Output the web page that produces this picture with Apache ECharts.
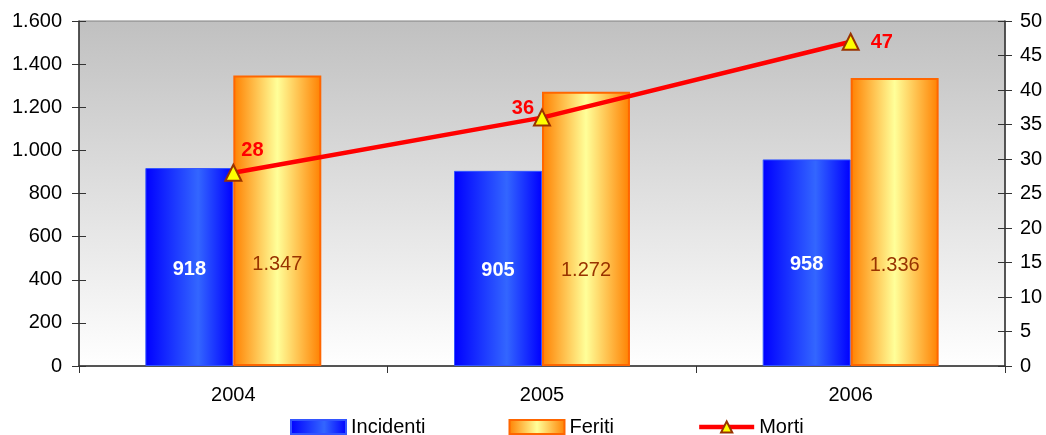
<!DOCTYPE html>
<html>
<head>
<meta charset="utf-8">
<script src="https://cdn.jsdelivr.net/npm/echarts@6/dist/echarts.min.js"></script>
<style>
html,body{margin:0;padding:0;background:#fff;}
#c{width:1046px;height:435px;}
</style>
</head>
<body>
<div id="c"></div>
<script>
var categories = ['2004', '2005', '2006'];
var incidenti = [918, 905, 958];
var feriti = [1347, 1272, 1336];
var morti = [28, 36, 47];
var leftTicks = {min: 0, max: 1600, interval: 200};
var rightTicks = {min: 0, max: 50, interval: 5};

function fmt(v) {
  return String(v).replace(/\B(?=(\d{3})+(?!\d))/g, '.');
}
var FONT = '"Liberation Sans", Arial, sans-serif';
var FS = 20;
var mortiLabelPos = [
  {position: 'right', offset: [-6, -22]},
  {position: 'left', offset: [6, -9]},
  {position: 'right', offset: [6, 1]}
];

var chart = echarts.init(document.getElementById('c'), null, {renderer: 'canvas'});
var option = {
  animation: false,
  textStyle: {fontFamily: FONT},
  grid: {
    left: 79, right: 41, top: 21, bottom: 69,
    show: true,
    borderColor: '#808080', borderWidth: 1,
    backgroundColor: new echarts.graphic.LinearGradient(0, 0, 0, 1, [
      {offset: 0, color: '#c0c0c0'},
      {offset: 1, color: '#ffffff'}
    ])
  },
  legend: {
    top: 417,
    left: 290,
    padding: 0,
    itemWidth: 55,
    itemHeight: 14,
    itemGap: 83,
    textStyle: {fontSize: FS, color: '#000', fontFamily: FONT},
    data: [
      {name: 'Incidenti', icon: 'rect'},
      {name: 'Feriti', icon: 'rect'},
      {name: 'Morti', lineStyle: {width: 4.5, color: '#ff0000'}}
    ]
  },
  xAxis: {
    type: 'category',
    data: categories,
    boundaryGap: true,
    axisLine: {lineStyle: {color: '#333', width: 1.5}},
    axisTick: {show: true, length: 7, interval: 0, lineStyle: {color: '#333'}},
    axisLabel: {fontSize: FS, color: '#000', margin: 19, fontFamily: FONT}
  },
  yAxis: [
    {
      type: 'value', position: 'left',
      min: leftTicks.min, max: leftTicks.max, interval: leftTicks.interval,
      axisLine: {show: true, lineStyle: {color: '#333', width: 1.5}},
      axisTick: {show: true, length: 7, lineStyle: {color: '#333'}},
      splitLine: {show: false},
      axisLabel: {fontSize: FS, color: '#000', margin: 17, formatter: fmt, fontFamily: FONT}
    },
    {
      type: 'value', position: 'right',
      min: rightTicks.min, max: rightTicks.max, interval: rightTicks.interval,
      axisLine: {show: true, lineStyle: {color: '#333', width: 1.5}},
      axisTick: {show: true, length: 7, lineStyle: {color: '#333'}},
      splitLine: {show: false},
      axisLabel: {fontSize: FS, color: '#000', margin: 15, fontFamily: FONT}
    },
    {
      type: 'value', position: 'left',
      min: leftTicks.min, max: leftTicks.max, interval: leftTicks.interval,
      axisLine: {show: false},
      axisTick: {show: true, inside: true, length: 7, lineStyle: {color: '#333'}},
      splitLine: {show: false}, axisLabel: {show: false}
    },
    {
      type: 'value', position: 'right',
      min: rightTicks.min, max: rightTicks.max, interval: rightTicks.interval,
      axisLine: {show: false},
      axisTick: {show: true, inside: true, length: 7, lineStyle: {color: '#333'}},
      splitLine: {show: false}, axisLabel: {show: false}
    }
  ],
  series: [
    {
      name: 'Incidenti', type: 'bar', yAxisIndex: 0,
      data: incidenti,
      barWidth: '28.5%', barGap: '0%',
      itemStyle: {
        color: new echarts.graphic.LinearGradient(0, 0, 1, 0, [
          {offset: 0, color: '#0000ff'},
          {offset: 0.6, color: '#3366ff'},
          {offset: 1, color: '#0000ff'}
        ]),
        borderColor: '#3355ff', borderWidth: 1
      },
      label: {
        show: true, position: ['50%', '51%'], align: 'center', verticalAlign: 'middle',
        color: '#fff', fontWeight: 'bold', fontSize: FS, fontFamily: FONT,
        formatter: function (p) { return fmt(p.value); }
      }
    },
    {
      name: 'Feriti', type: 'bar', yAxisIndex: 0,
      data: feriti,
      barWidth: '28.5%', barGap: '0%',
      itemStyle: {
        color: new echarts.graphic.LinearGradient(0, 0, 1, 0, [
          {offset: 0, color: '#ff8000'},
          {offset: 0.5, color: '#ffff99'},
          {offset: 1, color: '#ff8000'}
        ]),
        borderColor: '#ff6600', borderWidth: 2
      },
      label: {
        show: true, position: ['50%', '65%'], align: 'center', verticalAlign: 'middle',
        color: '#993300', fontSize: FS, fontFamily: FONT,
        formatter: function (p) { return fmt(p.value); }
      }
    },
    {
      name: 'Morti', type: 'line', yAxisIndex: 1,
      data: morti.map(function (v, i) {
        return {value: v, label: mortiLabelPos[i]};
      }),
      lineStyle: {color: '#ff0000', width: 4.5},
      itemStyle: {color: '#ffff00', borderColor: '#993300', borderWidth: 2},
      symbol: 'triangle', symbolSize: 16,
      z: 5,
      label: {
        show: true, color: '#ff0000', fontWeight: 'bold', fontSize: FS, fontFamily: FONT
      }
    }
  ]
};
chart.setOption(option);
</script>
</body>
</html>
